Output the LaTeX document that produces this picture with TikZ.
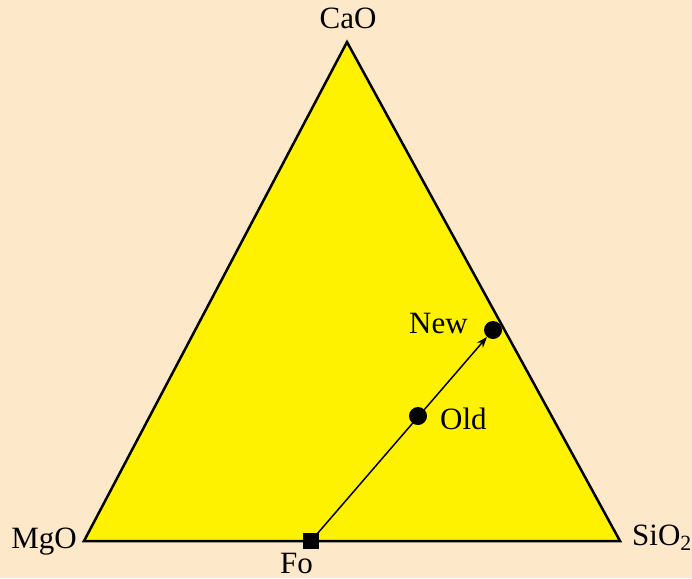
\documentclass[tikz,border=0pt]{standalone}
\usepackage{fontspec}
\setmainfont{Liberation Serif}
\usetikzlibrary{arrows.meta}
\definecolor{bg}{HTML}{FDE9C9}
\definecolor{tri}{HTML}{FFF200}
\begin{document}
\begin{tikzpicture}[x=1pt,y=-1pt,
  lbl/.style={inner sep=0pt, font=\fontsize{31}{33}\selectfont},
  dot/.style={circle, fill=black, inner sep=0pt, minimum size=18pt},
  sq/.style={rectangle, fill=black, inner sep=0pt, minimum size=16pt}]
\fill[bg] (0,0) rectangle (692,578);
\useasboundingbox (0,0) rectangle (692,578);
\coordinate (M) at (84,541);
\coordinate (S) at (620,541);
\coordinate (C) at (347,42);
\filldraw[fill=tri, draw=black, line width=2.5pt, line join=miter] (M) -- (S) -- (C) -- cycle;
\node[lbl, anchor=base] (cao) at (348,29) {CaO};
\node[lbl, anchor=base east] (mgo) at (77,548) {MgO};
\node[lbl, anchor=base west] (sio) at (632,545) {SiO\textsubscript{2}};
\node[sq] (fo) at (311,541) {};
\node[dot] (old) at (418,416) {};
\node[dot] (new) at (493,330) {};
\node[lbl, anchor=base west] (folbl) at (280,573) {Fo};
\node[lbl, anchor=base west] (oldlbl) at (440,429) {Old};
\node[lbl, anchor=base west] (newlbl) at (409,333) {New};
\draw[line width=1.5pt, -{Stealth[length=11pt,width=8pt]}] (fo.center) -- (new);
\end{tikzpicture}
\end{document}
